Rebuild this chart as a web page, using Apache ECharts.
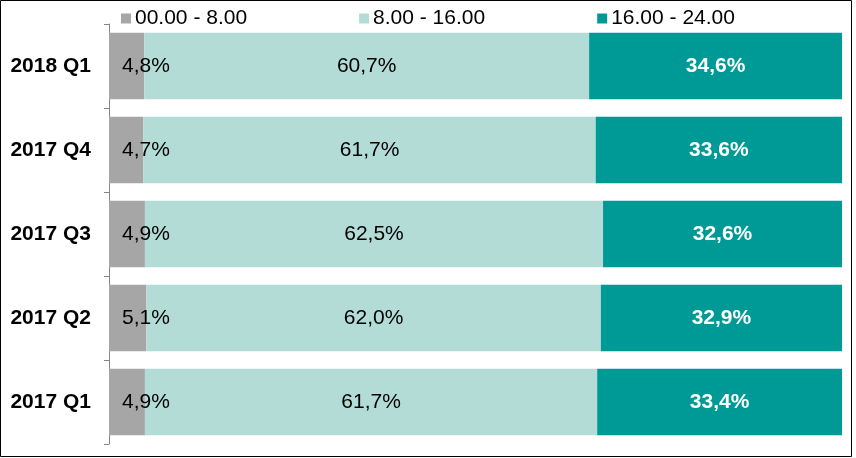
<!DOCTYPE html>
<html>
<head>
<meta charset="utf-8">
<script src="https://cdn.jsdelivr.net/npm/echarts@6/dist/echarts.min.js"></script>
<style>
  html, body { margin: 0; padding: 0; background: #fff; }
  #chart { width: 856px; height: 458px; }
</style>
</head>
<body>
<div id="chart"></div>
<script>
// periods, top to bottom
const quarters = ['2018 Q1', '2017 Q4', '2017 Q3', '2017 Q2', '2017 Q1'];
const seriesNames = ['00.00 - 8.00', '8.00 - 16.00', '16.00 - 24.00'];
// share per time slot (%)
const night = [4.8, 4.7, 4.9, 5.1, 4.9];
const day = [60.7, 61.7, 62.5, 62.0, 61.7];
const evening = [34.6, 33.6, 32.6, 32.9, 33.4];

const colors = ['#a6a6a6', '#b3dcd6', '#009a96'];
const font = 'Arial, "Liberation Sans", sans-serif';

const chart = echarts.init(document.getElementById('chart'));

const fmt = p => p.value.toFixed(1).replace('.', ',') + '%';

chart.setOption({
  backgroundColor: '#fff',
  animation: false,
  legend: {
    data: seriesNames,
    top: 3,
    left: 116,
    itemWidth: 10,
    itemHeight: 10,
    itemGap: 112,
    icon: 'rect',
    textStyle: { fontFamily: font, fontSize: 21, color: '#000', padding: [0, 0, 0, -1] }
  },
  grid: { left: 109, right: 14, top: 24, bottom: 14 },
  xAxis: {
    type: 'value',
    min: 0,
    max: 100,
    show: false
  },
  yAxis: {
    type: 'category',
    data: quarters,
    inverse: true,
    axisLine: { show: true, lineStyle: { color: '#868686', width: 1 } },
    axisTick: { show: true, length: 5, lineStyle: { color: '#868686' } },
    axisLabel: {
      fontFamily: font, fontSize: 21, fontWeight: 'bold', color: '#000', margin: 18
    }
  },
  series: [
    {
      name: seriesNames[0], type: 'bar', stack: 'all', data: night,
      barCategoryGap: '21%',
      itemStyle: { color: colors[0] },
      label: {
        show: true, position: 'insideLeft', distance: 13, formatter: fmt,
        fontFamily: font, fontSize: 21, color: '#000'
      }
    },
    {
      name: seriesNames[1], type: 'bar', stack: 'all', data: day,
      itemStyle: { color: colors[1] },
      label: {
        show: true, position: 'inside', formatter: fmt,
        fontFamily: font, fontSize: 21, color: '#000'
      }
    },
    {
      name: seriesNames[2], type: 'bar', stack: 'all', data: evening,
      itemStyle: { color: colors[2] },
      label: {
        show: true, position: 'inside', formatter: fmt,
        fontFamily: font, fontSize: 21, fontWeight: 'bold', color: '#fff'
      }
    }
  ],
  graphic: [{
    type: 'rect',
    shape: { x: 0.5, y: 0.5, width: 851, height: 456 },
    style: { fill: null, stroke: '#000', lineWidth: 1 },
    silent: true
  }]
});
</script>
</body>
</html>
